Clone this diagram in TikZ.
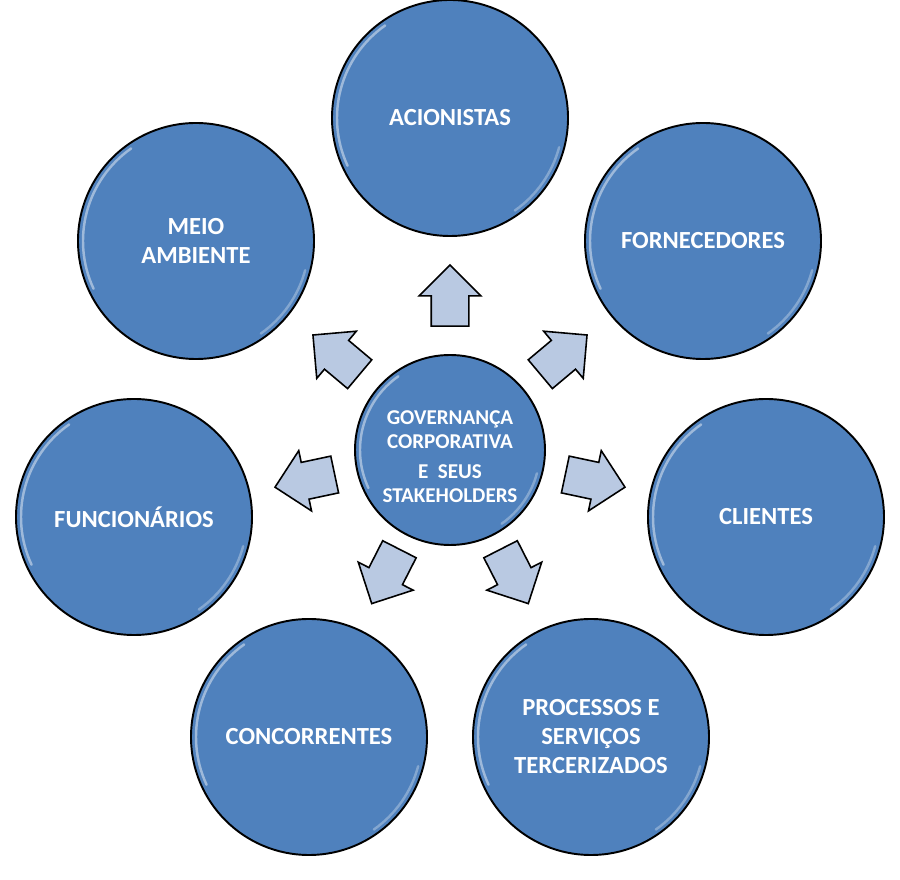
\documentclass[tikz,border=0pt]{standalone}
\usepackage{fontspec}
\setmainfont{Carlito}
\usetikzlibrary{positioning,calc,shapes.arrows}
\definecolor{GovBlue}{RGB}{79,129,189}
\definecolor{ArrowGray}{RGB}{185,201,226}
\tikzset{
  party/.style={circle,draw=black,fill=GovBlue,line width=1.1pt,minimum size=4.72cm,
    inner sep=0pt,text=white,align=center,font=\fontsize{14}{16.5}\selectfont\bfseries},
  hub/.style={party,minimum size=3.8cm},
  hubtext/.style={text=white,align=center,inner sep=0pt,font=\fontsize{12}{13.4}\selectfont\bfseries},
  outarrow/.style={single arrow,draw=black,fill=ArrowGray,line width=0.9pt,
    minimum height=1.22cm,inner xsep=0pt,inner ysep=0.36cm,single arrow head extend=0.24cm},
  glint/.style={white,opacity=0.45,line width=1.4pt,line cap=round},
}
\begin{document}
\begin{tikzpicture}
  \useasboundingbox (0,0) rectangle (18,17.6);
        \coordinate (c) at (9,8.6);
        % outer circles
        \node[party] (acio) at (9,15.24) {ACIONISTAS};
        \node[party] (forn) at (14.06,12.78) {FORNECEDORES};
        \node[party] (cli) at (15.32,7.26) {CLIENTES};
        \node[party] (proc) at (11.82,2.86) {PROCESSOS E\\SERVIÇOS\\TERCERIZADOS};
        \node[party] (conc) at (6.18,2.86) {CONCORRENTES};
        \node[party] (func) at (2.68,7.26) {FUNCIONÁRIOS};
        \node[party] (meio) at (3.92,12.78) {MEIO\\AMBIENTE};
        \node[hub] (gov) at (c) {};
        \node[hubtext] (govtext) at ($(gov.center)+(0,-0.13)$) {GOVERNANÇA\\CORPORATIVA\\[4pt]E\ \ SEUS\\STAKEHOLDERS};
        \foreach \p in {acio,forn,cli,proc,conc,func,meio} {
          \draw[glint] ([shift={(125:2.26)}]\p.center) arc (125:205:2.26);
          \draw[glint,opacity=0.3] ([shift={(-15:2.26)}]\p.center) arc (-15:-55:2.26);
        }
        \draw[glint] ([shift={(125:1.8)}]gov.center) arc (125:205:1.8);
        \draw[glint,opacity=0.3] ([shift={(-15:1.8)}]gov.center) arc (-15:-55:1.8);
        % arrows pointing out
        \foreach \a/\d in {90/2.9,40/2.78,-12/2.78,-63/2.65,243/2.65,192/2.78,140/2.78}
          \node[outarrow,rotate=\a] (arr\a) at ($(c)+(\a:\d)$) {};
      \end{tikzpicture}
\end{document}
